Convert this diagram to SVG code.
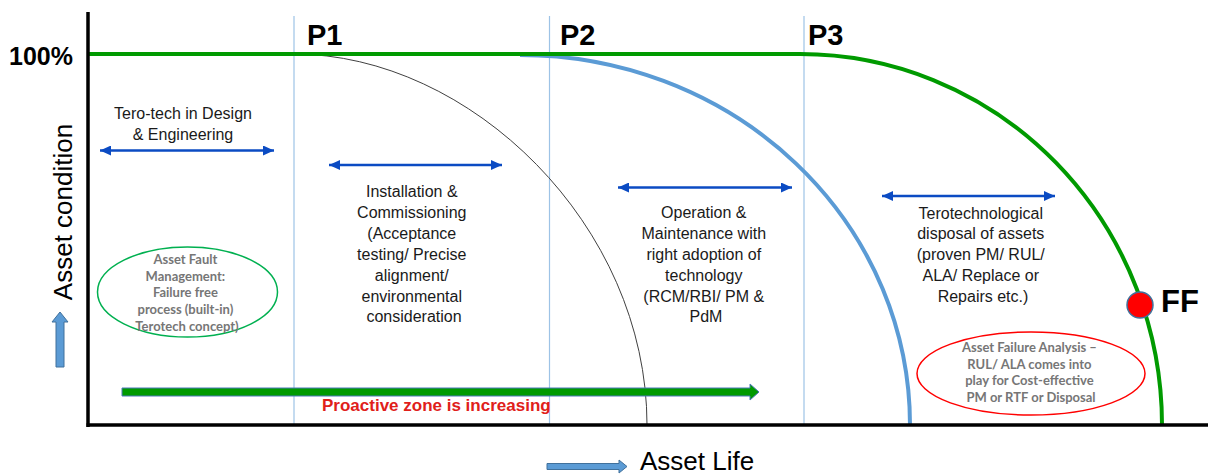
<svg xmlns="http://www.w3.org/2000/svg" width="1208" height="474" viewBox="0 0 1208 474">
  <style>
    .lbl { font-family: "Liberation Sans", Arial, sans-serif; font-size: 16px; fill: #1a1a1a; text-anchor: middle; }
    .big { font-family: "Liberation Sans", Arial, sans-serif; font-weight: bold; fill: #000; }
    .note { font-family: Lato, "Open Sans", sans-serif; font-weight: bold; font-size: 13px; fill: #767676; text-anchor: middle; }
    .phase { stroke: #9DC3E6; stroke-width: 1.2; }
    .span { stroke: #0B4BC3; stroke-width: 2.5; fill: none; marker-start: url(#tip); marker-end: url(#tip); }
  </style>
  <defs>
    <marker id="tip" markerUnits="userSpaceOnUse" markerWidth="11" markerHeight="10" refX="11" refY="5" orient="auto-start-reverse">
      <path d="M0,0 L11,5 L0,10 z" fill="#0B4BC3"/>
    </marker>
  </defs>
  <rect width="1208" height="474" fill="#fff"/>

  <!-- phase boundaries -->
  <g id="phase-lines">
    <line class="phase" x1="294" y1="16" x2="294" y2="424"/>
    <line class="phase" x1="549.5" y1="16" x2="549.5" y2="424"/>
    <line class="phase" x1="804" y1="16" x2="804" y2="424"/>
  </g>

  <!-- condition curves -->
  <g id="curves" fill="none">
    <path d="M294,54 C470,54 647,225 647,425" stroke="#404040" stroke-width="1"/>
    <path d="M520,55 A390,370 0 0 1 910,425" stroke="#5B9BD5" stroke-width="4"/>
    <path d="M88,54 H800 A362,371 0 0 1 1162,425" stroke="#009A00" stroke-width="4"/>
  </g>

  <!-- axes -->
  <g id="axes" stroke="#000" stroke-width="3.5" fill="none">
    <line x1="88" y1="12" x2="88" y2="427"/>
    <line x1="86.5" y1="425" x2="1208" y2="425"/>
  </g>

  <g id="axis-labels">
    <text class="big" x="9" y="65" font-size="25">100%</text>
    <text class="big" x="307" y="45" font-size="29">P1</text>
    <text class="big" x="560" y="45" font-size="29">P2</text>
    <text class="big" x="808" y="45" font-size="29">P3</text>
    <text transform="translate(72,212) rotate(-90)" font-family="Liberation Sans, Arial, sans-serif" font-size="26" fill="#000" text-anchor="middle">Asset condition</text>
    <path d="M56,367 V322 H52 L60,312 L68,322 H64 V367 z" fill="#5B9BD5" stroke="#41719C" stroke-width="1"/>
    <path d="M547,463.5 H619 V460 L627,466.5 L619,473 V469.5 H547 z" fill="#5B9BD5" stroke="#41719C" stroke-width="1"/>
    <text x="640" y="470" font-family="Liberation Sans, Arial, sans-serif" font-size="26" fill="#000">Asset Life</text>
  </g>

  <!-- phase spans -->
  <g id="connectors">
    <line class="span" x1="100" y1="150.5" x2="274" y2="150.5"/>
    <line class="span" x1="329" y1="165" x2="502" y2="165"/>
    <line class="span" x1="618" y1="187.5" x2="792" y2="187.5"/>
    <line class="span" x1="882" y1="196" x2="1055" y2="196"/>
    <path d="M122,388 H750 V384 L759,392 L750,400 V396 H122 z" fill="#009A00" stroke="#4A78B8" stroke-width="1"/>
  </g>

  <g id="design">
    <text class="lbl"><tspan x="183" y="119">Tero-tech in Design</tspan><tspan x="183" y="140">&amp; Engineering</tspan></text>
  </g>

  <g id="installation">
    <text class="lbl">
      <tspan x="414" y="197">Installation &amp;</tspan>
      <tspan x="414" y="218">Commissioning</tspan>
      <tspan x="414" y="239">(Acceptance</tspan>
      <tspan x="414" y="260">testing/ Precise</tspan>
      <tspan x="414" y="281">alignment/</tspan>
      <tspan x="414" y="302">environmental</tspan>
      <tspan x="414" y="322">consideration</tspan>
    </text>
  </g>

  <g id="operation">
    <text class="lbl">
      <tspan x="706" y="218">Operation &amp;</tspan>
      <tspan x="706" y="239">Maintenance with</tspan>
      <tspan x="706" y="260">right adoption of</tspan>
      <tspan x="706" y="281">technology</tspan>
      <tspan x="706" y="302">(RCM/RBI/ PM &amp;</tspan>
      <tspan x="706" y="322">PdM</tspan>
    </text>
  </g>

  <g id="disposal">
    <text class="lbl">
      <tspan x="983" y="219">Terotechnological</tspan>
      <tspan x="983" y="239">disposal of assets</tspan>
      <tspan x="983" y="260">(proven PM/ RUL/</tspan>
      <tspan x="983" y="281">ALA/ Replace or</tspan>
      <tspan x="983" y="302">Repairs etc.)</tspan>
    </text>
  </g>

  <g id="fault-management">
    <ellipse cx="187.5" cy="292" rx="90" ry="45" fill="none" stroke="#00B050" stroke-width="1.5"/>
    <text class="note">
      <tspan x="187" y="264">Asset Fault</tspan>
      <tspan x="187" y="281">Management:</tspan>
      <tspan x="187" y="297">Failure free</tspan>
      <tspan x="187" y="314">process (built-in)</tspan>
      <tspan x="187" y="331">Terotech concept)</tspan>
    </text>
  </g>

  <g id="failure-analysis">
    <ellipse cx="1031" cy="373.5" rx="114" ry="41.5" fill="none" stroke="#FF0000" stroke-width="1.5"/>
    <text class="note">
      <tspan x="1031" y="352">Asset Failure Analysis –</tspan>
      <tspan x="1031" y="369">RUL/ ALA comes into</tspan>
      <tspan x="1031" y="385">play for Cost-effective</tspan>
      <tspan x="1031" y="402">PM or RTF or Disposal</tspan>
    </text>
  </g>

  <g id="proactive">
    <text x="322" y="411" font-family="Liberation Sans, Arial, sans-serif" font-weight="bold" font-size="17" fill="#E0201A">Proactive zone is increasing</text>
  </g>

  <g id="ff">
    <circle cx="1140" cy="305" r="13" fill="#FF0000" stroke="#41719C" stroke-width="1.5"/>
    <text class="big" x="1161" y="312" font-size="31">FF</text>
  </g>
</svg>
